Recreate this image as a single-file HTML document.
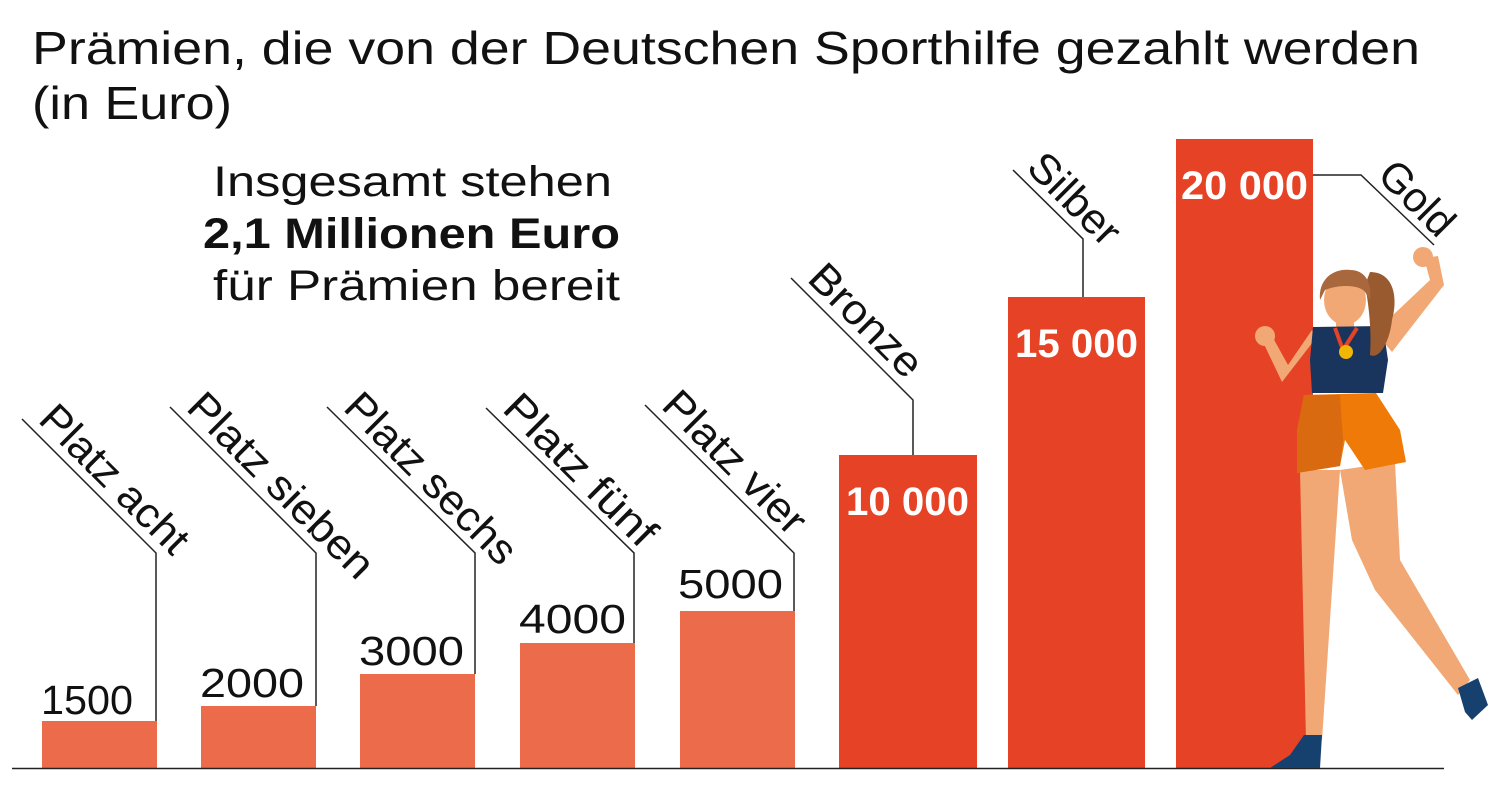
<!DOCTYPE html>
<html><head><meta charset="utf-8"><style>
html,body{margin:0;padding:0;background:#fff;}
svg{display:block;}
text{font-family:"Liberation Sans",sans-serif;}
</style></head><body>
<svg width="1500" height="800" viewBox="0 0 1500 800" xmlns="http://www.w3.org/2000/svg">
<text x="32" y="64" font-size="46" fill="#111" textLength="1388" lengthAdjust="spacingAndGlyphs">Prämien, die von der Deutschen Sporthilfe gezahlt werden</text>
<text x="32" y="119" font-size="46" fill="#111" textLength="200" lengthAdjust="spacingAndGlyphs">(in Euro)</text>
<g font-size="43" fill="#111">
<text x="213" y="196" textLength="399" lengthAdjust="spacingAndGlyphs">Insgesamt stehen</text>
<text x="203" y="248" font-weight="bold" textLength="417" lengthAdjust="spacingAndGlyphs">2,1 Millionen Euro</text>
<text x="213" y="300" textLength="407" lengthAdjust="spacingAndGlyphs">für Prämien bereit</text>
</g>
<g fill="#ec6b4a">
<rect x="42" y="721" width="115" height="47"/>
<rect x="201" y="706" width="115" height="62"/>
<rect x="360" y="674" width="115" height="94"/>
<rect x="520" y="643" width="115" height="125"/>
<rect x="680" y="611" width="115" height="157"/>
</g>
<g fill="#e64225">
<rect x="839" y="455" width="138" height="313"/>
<rect x="1008" y="297" width="137" height="471"/>
<rect x="1176" y="139" width="137" height="629"/>
</g>
<line x1="12" y1="768.5" x2="1444" y2="768.5" stroke="#222" stroke-width="1.5"/>
<g font-size="41" fill="#111">
<text x="41" y="714" textLength="92" lengthAdjust="spacingAndGlyphs">1500</text>
<text x="200" y="697" textLength="104" lengthAdjust="spacingAndGlyphs">2000</text>
<text x="359" y="665" textLength="105" lengthAdjust="spacingAndGlyphs">3000</text>
<text x="519" y="633" textLength="107" lengthAdjust="spacingAndGlyphs">4000</text>
<text x="678" y="598" textLength="105" lengthAdjust="spacingAndGlyphs">5000</text>
</g>
<g font-size="40" fill="#fff" font-weight="bold">
<text x="846" y="515" textLength="123" lengthAdjust="spacingAndGlyphs">10 000</text>
<text x="1015" y="357" textLength="123" lengthAdjust="spacingAndGlyphs">15 000</text>
<text x="1181" y="199" textLength="127" lengthAdjust="spacingAndGlyphs">20 000</text>
</g>
<g stroke="#222" stroke-width="1.5" fill="none">
<polyline points="22,419 156,553 156,721"/>
<polyline points="170,407 316,553 316,706"/>
<polyline points="327,407 475,553 475,674"/>
<polyline points="486,408 634,553 634,643"/>
<polyline points="645,405 794,553 794,611"/>
<polyline points="791,278 913,400 913,455"/>
<polyline points="1013,170 1083,239 1083,297"/>
<polyline points="1313,175 1361,175 1434,245"/>
</g>
<g font-size="42" fill="#111">
<text transform="translate(22,419) rotate(45)" x="12" y="-9" textLength="192" lengthAdjust="spacingAndGlyphs">Platz acht</text>
<text transform="translate(170,407) rotate(45)" x="12" y="-9" textLength="244" lengthAdjust="spacingAndGlyphs">Platz sieben</text>
<text transform="translate(327,407) rotate(45)" x="12" y="-9" textLength="224" lengthAdjust="spacingAndGlyphs">Platz sechs</text>
<text transform="translate(486,408) rotate(45)" x="12" y="-9" textLength="197" lengthAdjust="spacingAndGlyphs">Platz fünf</text>
<text transform="translate(645,405) rotate(45)" x="12" y="-9" textLength="184" lengthAdjust="spacingAndGlyphs">Platz vier</text>
<text transform="translate(791,278) rotate(45)" x="12" y="-9" textLength="142" lengthAdjust="spacingAndGlyphs">Bronze</text>
<text transform="translate(1013,170) rotate(45)" x="8" y="-9" textLength="112" lengthAdjust="spacingAndGlyphs">Silber</text>
<text transform="translate(1361,175) rotate(45)" x="12" y="-9" textLength="88" lengthAdjust="spacingAndGlyphs">Gold</text>
</g>
<g>
<path d="M1300,470 L1340,470 L1322,740 L1306,740 Z" fill="#f2a875"/>
<path d="M1340,470 L1395,462 L1400,560 L1470,680 L1458,695 L1375,590 L1352,540 Z" fill="#f2a875"/>
<path d="M1304,735 L1322,735 L1320,768 L1270,768 L1290,755 Z" fill="#16406e"/>
<path d="M1458,688 L1478,678 L1488,705 L1472,720 L1465,712 Z" fill="#16406e"/>
<path d="M1304,395 L1376,393 L1400,430 L1406,462 L1365,470 L1345,440 L1340,466 L1297,473 L1297,430 Z" fill="#ef7a08"/>
<path d="M1304,395 L1340,395 L1343,440 L1340,466 L1297,473 L1297,430 Z" fill="#d96a10"/>
<path d="M1375,332 L1430,280 L1424,258 L1438,256 L1444,285 L1392,352 Z" fill="#f2a875"/>
<circle cx="1423" cy="257" r="10" fill="#f2a875"/>
<path d="M1316,338 L1282,382 L1262,340 L1272,336 L1288,365 L1312,330 Z" fill="#f2a875"/>
<circle cx="1265" cy="336" r="10" fill="#f2a875"/>
<rect x="1336" y="315" width="18" height="16" fill="#f2a875"/>
<path d="M1313,327 L1383,326 L1388,360 L1383,393 L1312,393 L1310,360 Z" fill="#19355e"/>
<path d="M1335,328 L1343,350 L1357,328" stroke="#e64225" stroke-width="4" fill="none"/>
<circle cx="1346" cy="352" r="7" fill="#f2b705"/>
<path d="M1370,272 C1395,272 1398,300 1392,320 C1390,340 1380,360 1370,355 C1372,330 1368,300 1365,285 Z" fill="#9a5a30"/>
<ellipse cx="1345" cy="300" rx="21" ry="25" fill="#f2a875"/>
<path d="M1320,300 C1318,278 1335,268 1350,270 C1365,270 1372,282 1370,300 L1365,292 C1360,285 1340,284 1325,290 Z" fill="#a8673c"/>
</g>
</svg>
</body></html>
